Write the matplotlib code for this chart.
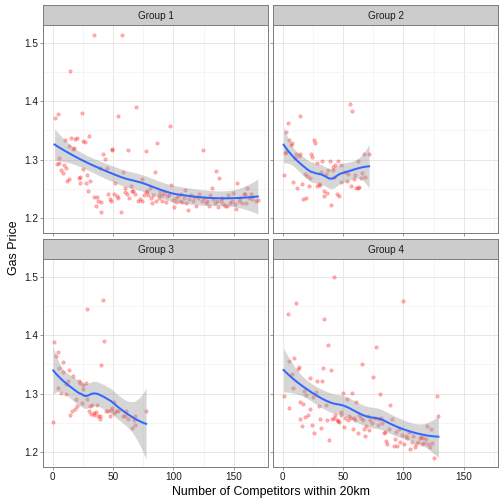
import numpy as np
import matplotlib
matplotlib.use("Agg")
from matplotlib import pyplot as plt

plt.rcParams["font.family"] = ["Liberation Sans", "DejaVu Sans"]

# values (competitors within 20km, gas price)
g1_x = [1.4, 3.9, 34.5, 57.7, 14.4, 23.8, 54.0, 69.0, 97.5, 30.0, 3.6, 4.9, 5.5, 6.9, 8.0,
        9.1, 9.9, 10.8, 11.6, 13.0, 13.5, 15.2, 16.9, 18.0, 19.6, 17.7, 22.4, 22.9, 24.9,
        24.6, 27.0, 27.3, 28.5, 29.3, 31.2, 33.7, 35.4, 36.7, 37.3, 39.0, 39.5, 40.3, 41.7,
        43.6, 44.5, 45.9, 47.2, 47.8, 48.9, 49.4, 51.7, 50.6, 52.8, 53.9, 56.6, 58.0, 59.4,
        59.9, 61.6, 62.4, 63.0, 64.4, 66.0, 66.6, 67.7, 70.7, 72.1, 73.5, 74.0, 75.4, 77.1,
        77.6, 78.2, 79.0, 80.7, 81.5, 82.0, 83.4, 84.8, 85.4, 86.2, 87.6, 88.1, 89.0, 90.3,
        90.9, 92.0, 93.4, 94.8, 96.1, 98.1, 99.7, 100.6, 101.7, 102.5, 103.9, 105.0, 106.0,
        107.2, 108.6, 109.9, 110.8, 112.2, 113.0, 114.6, 116.0, 117.4, 119.0, 120.4, 121.5,
        123.5, 124.3, 125.7, 126.8, 128.2, 129.3, 130.7, 131.8, 132.6, 134.3, 135.1, 136.2,
        137.3, 138.1, 139.2, 140.3, 141.4, 143.1, 144.2, 145.6, 146.7, 148.3, 149.4, 150.8,
        151.9, 153.0, 154.1, 155.5, 156.9, 158.3, 159.7, 160.5, 161.3, 162.7, 164.1, 165.2,
        168.2, 169.9, 21.3]
g1_y = [1.371, 1.379, 1.514, 1.514, 1.452, 1.380, 1.374, 1.391, 1.358, 1.341, 1.293, 1.295,
        1.303, 1.282, 1.277, 1.290, 1.333, 1.285, 1.264, 1.267, 1.323, 1.337, 1.318, 1.336,
        1.337, 1.320, 1.260, 1.271, 1.284, 1.332, 1.331, 1.260, 1.273, 1.247, 1.264, 1.236,
        1.221, 1.236, 1.230, 1.286, 1.210, 1.227, 1.309, 1.301, 1.286, 1.241, 1.233, 1.230,
        1.318, 1.316, 1.260, 1.241, 1.238, 1.234, 1.210, 1.279, 1.251, 1.244, 1.241, 1.317,
        1.234, 1.254, 1.247, 1.246, 1.241, 1.229, 1.232, 1.266, 1.229, 1.239, 1.244, 1.315,
        1.247, 1.240, 1.251, 1.234, 1.225, 1.240, 1.279, 1.230, 1.329, 1.240, 1.234, 1.247,
        1.230, 1.239, 1.242, 1.228, 1.238, 1.240, 1.256, 1.231, 1.219, 1.227, 1.234, 1.237,
        1.229, 1.241, 1.228, 1.234, 1.248, 1.226, 1.213, 1.232, 1.240, 1.230, 1.236, 1.221,
        1.234, 1.241, 1.229, 1.317, 1.234, 1.226, 1.229, 1.221, 1.240, 1.251, 1.232, 1.226,
        1.280, 1.230, 1.219, 1.268, 1.229, 1.234, 1.224, 1.220, 1.220, 1.240, 1.226, 1.230,
        1.243, 1.224, 1.215, 1.260, 1.230, 1.234, 1.226, 1.241, 1.241, 1.226, 1.252, 1.234,
        1.241, 1.233, 1.230, 1.231, 1.269]

g2_x = [0.6, 1.7, 2.5, 3.0, 3.9, 5.2, 6.6, 7.7, 8.6, 9.9, 11.0, 11.9, 13.3, 13.8, 14.6, 16.0,
        16.9, 18.0, 18.8, 20.2, 21.5, 22.4, 23.5, 24.3, 25.7, 26.5, 27.9, 28.7, 29.8, 31.2,
        32.0, 32.6, 33.7, 34.5, 35.9, 36.7, 37.6, 38.7, 40.1, 41.2, 41.7, 42.8, 43.6, 45.0,
        45.9, 46.7, 47.8, 48.6, 51.9, 53.3, 54.4, 55.8, 56.6, 57.7, 58.8, 59.9, 61.0, 61.9,
        62.7, 63.5, 65.2, 66.0, 67.1, 68.0, 71.5]
g2_y = [1.274, 1.312, 1.313, 1.348, 1.362, 1.334, 1.325, 1.328, 1.262, 1.303, 1.310, 1.251,
        1.306, 1.374, 1.309, 1.259, 1.233, 1.275, 1.234, 1.272, 1.255, 1.268, 1.310, 1.305,
        1.333, 1.329, 1.295, 1.254, 1.259, 1.257, 1.279, 1.298, 1.247, 1.238, 1.275, 1.242,
        1.282, 1.298, 1.222, 1.283, 1.288, 1.271, 1.291, 1.241, 1.298, 1.238, 1.261, 1.290,
        1.279, 1.263, 1.275, 1.395, 1.255, 1.384, 1.267, 1.273, 1.252, 1.298, 1.251, 1.253,
        1.269, 1.277, 1.310, 1.271, 1.310]

g3_x = [0.3, 1.1, 2.8, 3.9, 4.4, 5.5, 6.4, 8.0, 8.8, 10.5, 11.3, 12.7, 13.5, 14.6, 15.7,
        16.9, 18.0, 19.1, 20.2, 21.5, 22.9, 23.8, 24.6, 25.4, 27.1, 27.9, 28.7, 29.6, 30.4,
        31.5, 32.6, 33.7, 34.3, 35.4, 36.7, 37.8, 38.7, 39.2, 40.3, 41.7, 42.8, 44.2, 45.6,
        47.0, 47.8, 49.2, 50.6, 51.1, 52.5, 53.6, 58.0, 59.4, 61.0, 61.9, 65.7, 66.9, 67.7,
        68.5, 77.3]
g3_y = [1.251, 1.389, 1.364, 1.371, 1.310, 1.344, 1.301, 1.337, 1.354, 1.317, 1.299, 1.322,
        1.340, 1.263, 1.270, 1.331, 1.274, 1.290, 1.279, 1.322, 1.318, 1.284, 1.308, 1.315,
        1.318, 1.291, 1.445, 1.270, 1.278, 1.265, 1.281, 1.264, 1.267, 1.268, 1.281, 1.262,
        1.261, 1.257, 1.349, 1.460, 1.390, 1.270, 1.271, 1.262, 1.272, 1.275, 1.286, 1.266,
        1.270, 1.271, 1.262, 1.262, 1.270, 1.257, 1.241, 1.254, 1.262, 1.247, 1.270]

g4_x = [0.6, 3.9, 4.7, 5.5, 7.2, 8.6, 9.4, 11.0, 12.2, 13.0, 13.8, 14.6, 16.0, 16.9, 17.7,
        18.5, 19.3, 20.7, 22.1, 22.9, 23.8, 25.1, 26.2, 27.6, 28.7, 29.6, 30.7, 31.8, 32.6,
        33.4, 34.3, 35.9, 36.7, 37.6, 38.4, 40.1, 40.9, 42.0, 42.5, 43.4, 44.5, 45.6, 46.7,
        47.8, 48.6, 49.7, 50.8, 51.9, 52.8, 53.9, 55.0, 56.1, 57.5, 58.3, 59.1, 60.2, 61.0,
        62.2, 63.0, 64.4, 65.7, 66.6, 67.4, 68.2, 69.3, 70.2, 71.3, 72.4, 73.5, 74.9, 76.0,
        77.3, 78.5, 79.6, 80.4, 81.5, 82.6, 83.7, 84.8, 85.9, 86.7, 88.1, 89.2, 90.6, 92.0,
        93.1, 94.2, 95.0, 96.1, 97.2, 98.6, 100.0, 100.8, 101.9, 103.0, 104.4, 105.5, 106.9,
        108.3, 109.7, 110.8, 111.9, 113.3, 114.4, 115.5, 116.6, 117.4, 118.5, 119.6, 120.7,
        121.8, 122.9, 124.0, 125.4, 128.2, 129.0]
g4_y = [1.296, 1.437, 1.356, 1.275, 1.334, 1.310, 1.361, 1.456, 1.342, 1.346, 1.285, 1.256,
        1.244, 1.282, 1.304, 1.260, 1.298, 1.264, 1.326, 1.273, 1.247, 1.294, 1.232, 1.302,
        1.322, 1.279, 1.256, 1.241, 1.322, 1.344, 1.428, 1.281, 1.255, 1.383, 1.221, 1.341,
        1.256, 1.500, 1.259, 1.264, 1.255, 1.253, 1.252, 1.269, 1.264, 1.301, 1.243, 1.259,
        1.290, 1.255, 1.261, 1.259, 1.301, 1.239, 1.259, 1.255, 1.285, 1.233, 1.263, 1.259,
        1.350, 1.255, 1.239, 1.228, 1.245, 1.261, 1.237, 1.255, 1.250, 1.329, 1.259, 1.380,
        1.246, 1.256, 1.299, 1.259, 1.250, 1.232, 1.234, 1.219, 1.213, 1.240, 1.280, 1.257,
        1.210, 1.223, 1.234, 1.210, 1.240, 1.217, 1.229, 1.459, 1.213, 1.228, 1.224, 1.234,
        1.205, 1.217, 1.227, 1.208, 1.213, 1.217, 1.224, 1.225, 1.213, 1.224, 1.215, 1.223,
        1.245, 1.213, 1.209, 1.240, 1.215, 1.190, 1.296, 1.262]

groups = ["Group 1", "Group 2", "Group 3", "Group 4"]
xs = [g1_x, g2_x, g3_x, g4_x]
ys = [g1_y, g2_y, g3_y, g4_y]

x_ticks = [0, 50, 100, 150]
y_ticks = [1.2, 1.3, 1.4, 1.5]


def loess(x, y, grid, span=0.75):
    # local quadratic fit with tricube weights, like R's loess
    x = np.asarray(x)
    y = np.asarray(y)
    n = len(x)
    q = int(np.floor(n * span))

    def row(x0):
        d = np.abs(x - x0)
        h = np.sort(d)[q - 1]
        w = np.clip(1 - (d / h) ** 3, 0, None) ** 3
        X = np.column_stack([np.ones(n), x - x0, (x - x0) ** 2])
        XtW = X.T * w
        return np.linalg.solve(XtW @ X, XtW)[0]

    L = np.array([row(xi) for xi in x])
    res = y - L @ y
    M = np.eye(n) - L
    s = np.sqrt(np.sum(res ** 2) / np.trace(M.T @ M))
    Lg = np.array([row(g) for g in grid])
    return Lg @ y, s * np.sqrt(np.sum(Lg ** 2, axis=1))


all_x = np.concatenate([np.asarray(v) for v in xs])
all_y = np.concatenate([np.asarray(v) for v in ys])
xpad = 0.05 * (all_x.max() - all_x.min())
ypad = 0.05 * (all_y.max() - all_y.min())
xlim = (all_x.min() - xpad, all_x.max() + xpad)
ylim = (all_y.min() - ypad, all_y.max() + ypad)

fig = plt.figure(figsize=(7, 7), dpi=72)
W = 504.0
pw, ph, sh = 225 / W, 208 / W, 20 / W
lefts = [43 / W, 273 / W]
bottoms = [1 - 233.3 / W, 1 - 467.3 / W]

for i, name in enumerate(groups):
    r, c = divmod(i, 2)
    ax = fig.add_axes([lefts[c], bottoms[r], pw, ph])
    ax.set_xlim(xlim)
    ax.set_ylim(ylim)
    ax.set_xticks(x_ticks)
    ax.set_yticks(y_ticks)
    ax.set_xticks([25, 75, 125, 175], minor=True)
    ax.set_yticks([1.25, 1.35, 1.45], minor=True)
    ax.grid(which="major", color="#E5E5E5", linewidth=0.9)
    ax.grid(which="minor", color="#F4F4F4", linewidth=0.9)
    ax.set_axisbelow(True)
    for sp in ax.spines.values():
        sp.set_color("#7F7F7F")
        sp.set_linewidth(1.0)
    ax.tick_params(which="major", length=3, color="#7F7F7F", labelsize=10,
                   labelcolor="#1A1A1A", pad=2)
    ax.tick_params(which="minor", length=0)
    if c == 1:
        ax.tick_params(labelleft=False)
    if r == 0:
        ax.tick_params(labelbottom=False)

    gx = np.asarray(xs[i])
    gy = np.asarray(ys[i])
    ax.scatter(gx, gy, s=12, facecolor=(1, 0, 0, 0.3), edgecolor=(1, 0, 0, 0.3),
               linewidths=0.6, zorder=2)
    grid = np.linspace(gx.min(), gx.max(), 80)
    fit, se = loess(gx, gy, grid)
    ax.fill_between(grid, fit - 1.97 * se, fit + 1.97 * se, color="#999999",
                    alpha=0.4, linewidth=0, zorder=3)
    ax.plot(grid, fit, color="#3366FF", linewidth=2.0, zorder=4)

    sax = fig.add_axes([lefts[c], bottoms[r] + ph, pw, sh])
    sax.set_xticks([])
    sax.set_yticks([])
    sax.set_facecolor("#CCCCCC")
    for sp in sax.spines.values():
        sp.set_color("#7F7F7F")
        sp.set_linewidth(1.0)
    sax.text(0.5, 0.48, name, ha="center", va="center", fontsize=10,
             color="#1A1A1A", transform=sax.transAxes)

fig.text(271 / W, 1 - 492 / W, "Number of Competitors within 20km", ha="center",
         va="center", fontsize=12.4, color="black")
fig.text(14 / W, 1 - 248 / W, "Gas Price", ha="center", va="center", rotation=90,
         fontsize=12.4, color="black")

fig.savefig("out.png", dpi=72, facecolor="white")
